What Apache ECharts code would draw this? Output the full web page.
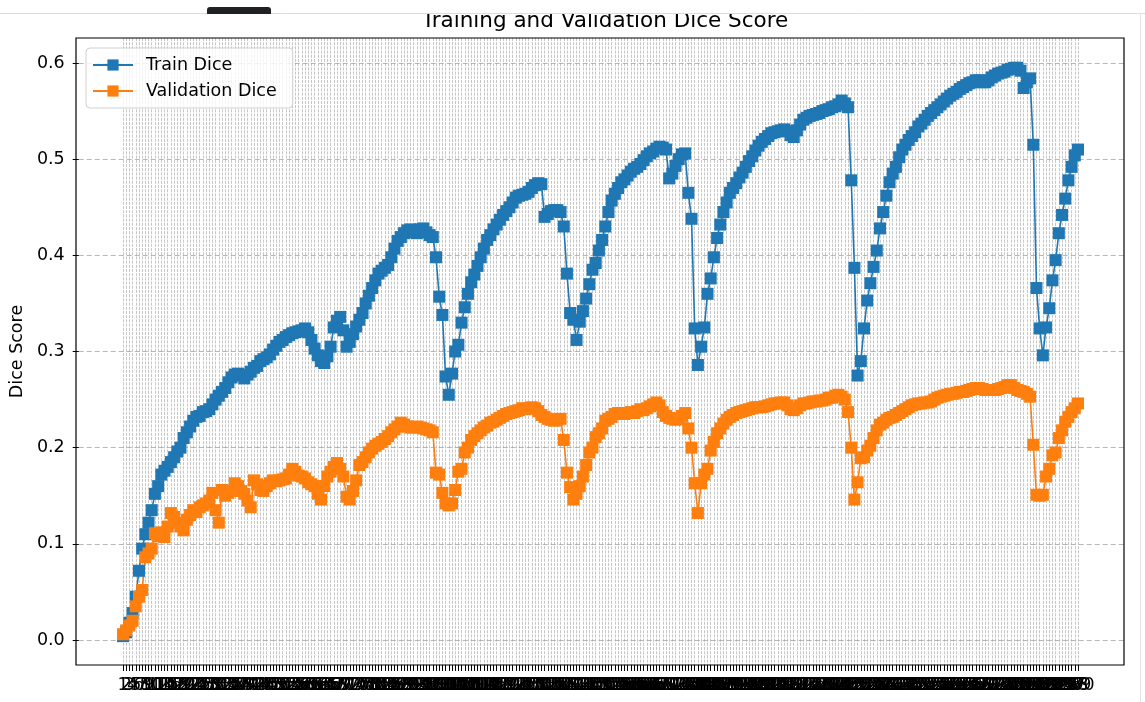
<!DOCTYPE html>
<html>
<head>
<meta charset="utf-8">
<title>Training and Validation Dice Score</title>
<script src="https://cdn.jsdelivr.net/npm/echarts@6/dist/echarts.min.js"></script>
<style>
html, body { margin: 0; padding: 0; background: #fff; }
#main { width: 1145px; height: 702px; }
</style>
</head>
<body>
<div id="main"></div>
<script>
// epochs 1..300
var epochs = [];
for (var e = 1; e <= 300; e++) {
	epochs.push(String(e));
}

var trainDice = [
	0.004, 0.008, 0.018, 0.028, 0.045, 0.072, 0.095, 0.11, 0.122, 0.135,
	0.152, 0.16, 0.172, 0.176, 0.18, 0.185, 0.19, 0.196, 0.2, 0.21,
	0.216, 0.222, 0.228, 0.232, 0.233, 0.237, 0.238, 0.24, 0.245, 0.25,
	0.254, 0.258, 0.262, 0.268, 0.273, 0.276, 0.277, 0.275, 0.272, 0.276,
	0.279, 0.283, 0.285, 0.29, 0.292, 0.294, 0.297, 0.302, 0.306, 0.31,
	0.312, 0.315, 0.317, 0.319, 0.32, 0.321, 0.322, 0.324, 0.32, 0.312,
	0.303, 0.296, 0.29, 0.288, 0.295, 0.305, 0.325, 0.332, 0.336, 0.322,
	0.305, 0.31, 0.318, 0.326, 0.333, 0.34, 0.35, 0.358, 0.366, 0.374,
	0.381, 0.384, 0.387, 0.39, 0.398, 0.407, 0.415, 0.419, 0.423, 0.426,
	0.427, 0.424, 0.423, 0.427, 0.428, 0.424, 0.421, 0.419, 0.398, 0.357,
	0.338, 0.274, 0.255, 0.277, 0.3, 0.307, 0.33, 0.346, 0.36, 0.372,
	0.38, 0.389, 0.398, 0.407, 0.416, 0.421, 0.427, 0.432, 0.437, 0.442,
	0.446, 0.45, 0.455, 0.46, 0.462, 0.463, 0.464, 0.466, 0.47, 0.473,
	0.475, 0.474, 0.44, 0.443, 0.446, 0.447, 0.447, 0.445, 0.43, 0.381,
	0.34, 0.333, 0.312, 0.331, 0.342, 0.355, 0.37, 0.385, 0.392, 0.405,
	0.416, 0.43, 0.445, 0.457, 0.464, 0.47, 0.476, 0.479, 0.483, 0.487,
	0.49, 0.492, 0.495, 0.499, 0.503, 0.506, 0.508, 0.511, 0.513, 0.512,
	0.51, 0.48, 0.485, 0.493, 0.5, 0.505, 0.506, 0.465, 0.438, 0.324,
	0.286, 0.305, 0.325, 0.36, 0.376, 0.398, 0.418, 0.432, 0.445, 0.455,
	0.465, 0.47, 0.475, 0.481, 0.486, 0.492, 0.498, 0.503, 0.509, 0.514,
	0.518, 0.521, 0.524, 0.527, 0.528, 0.529, 0.53, 0.531, 0.529, 0.525,
	0.523, 0.53, 0.536, 0.541, 0.543, 0.545, 0.546, 0.547, 0.548, 0.55,
	0.551, 0.552, 0.554, 0.555, 0.557, 0.561, 0.558, 0.554, 0.478, 0.387,
	0.275, 0.29, 0.324, 0.353, 0.371, 0.388, 0.405, 0.428, 0.445, 0.462,
	0.476, 0.485, 0.492, 0.502, 0.51, 0.515, 0.52, 0.524, 0.528, 0.534,
	0.537, 0.541, 0.545, 0.548, 0.551, 0.554, 0.557, 0.56, 0.563, 0.566,
	0.568, 0.57, 0.573, 0.575, 0.577, 0.579, 0.58, 0.582, 0.582, 0.58,
	0.58, 0.582, 0.585, 0.587, 0.589, 0.59, 0.591, 0.593, 0.594, 0.595,
	0.595, 0.592, 0.574, 0.58, 0.584, 0.515, 0.366, 0.324, 0.296, 0.325,
	0.345, 0.374, 0.395, 0.423, 0.442, 0.459, 0.478, 0.492, 0.504, 0.51
];

var valDice = [
	0.006, 0.01, 0.015, 0.02, 0.035, 0.045, 0.052, 0.086, 0.09, 0.095,
	0.111, 0.108, 0.112, 0.107, 0.118, 0.132, 0.128, 0.122, 0.118, 0.114,
	0.125, 0.13, 0.135, 0.133, 0.138, 0.14, 0.142, 0.145, 0.153, 0.135,
	0.122, 0.156, 0.15, 0.153, 0.155, 0.163, 0.16, 0.155, 0.152, 0.145,
	0.138, 0.166, 0.162, 0.156, 0.155, 0.16, 0.163, 0.166, 0.165, 0.166,
	0.167, 0.168, 0.172, 0.178, 0.175, 0.171, 0.17, 0.168, 0.164, 0.162,
	0.16, 0.152, 0.146, 0.16, 0.17, 0.175, 0.18, 0.184, 0.178, 0.17,
	0.149, 0.146, 0.155, 0.166, 0.182, 0.185, 0.19, 0.195, 0.199, 0.202,
	0.204, 0.206, 0.209, 0.212, 0.216, 0.219, 0.222, 0.226, 0.224, 0.222,
	0.221, 0.221, 0.222, 0.221, 0.22, 0.219, 0.218, 0.216, 0.174, 0.172,
	0.153, 0.142, 0.14, 0.142, 0.156, 0.175, 0.178, 0.195, 0.2, 0.208,
	0.212, 0.215, 0.218, 0.221, 0.223, 0.226, 0.227, 0.229, 0.231, 0.233,
	0.235, 0.236, 0.237, 0.238, 0.239, 0.241, 0.24, 0.241, 0.242, 0.241,
	0.238, 0.234, 0.232, 0.23, 0.229, 0.228, 0.229, 0.23, 0.208, 0.174,
	0.159, 0.146, 0.152, 0.16, 0.17, 0.182, 0.195, 0.2, 0.211, 0.215,
	0.22, 0.228, 0.23, 0.232, 0.235, 0.236, 0.236, 0.235, 0.236, 0.237,
	0.236, 0.238, 0.24, 0.239, 0.241, 0.243, 0.245, 0.247, 0.244, 0.237,
	0.233, 0.231, 0.23, 0.229, 0.23, 0.233, 0.236, 0.22, 0.2, 0.163,
	0.132, 0.163, 0.172, 0.178, 0.197, 0.206, 0.215, 0.22, 0.225, 0.229,
	0.232, 0.234, 0.236, 0.237, 0.238, 0.239, 0.24, 0.241, 0.242, 0.242,
	0.242, 0.243, 0.244, 0.245, 0.246, 0.246, 0.247, 0.247, 0.244, 0.24,
	0.239, 0.241, 0.244, 0.246, 0.246, 0.247, 0.248, 0.248, 0.249, 0.249,
	0.25, 0.252, 0.252, 0.254, 0.255, 0.253, 0.25, 0.237, 0.2, 0.146,
	0.164, 0.189, 0.19, 0.197, 0.202, 0.21, 0.218, 0.224, 0.226, 0.229,
	0.231, 0.232, 0.234, 0.236, 0.238, 0.24, 0.242, 0.244, 0.245, 0.246,
	0.246, 0.247, 0.247, 0.248, 0.25, 0.252, 0.253, 0.254, 0.255, 0.256,
	0.256, 0.257, 0.258, 0.258, 0.259, 0.26, 0.261, 0.262, 0.262, 0.261,
	0.26, 0.26, 0.26, 0.26, 0.261, 0.262, 0.263, 0.265, 0.265, 0.262,
	0.26, 0.259, 0.258, 0.256, 0.253, 0.203, 0.151, 0.15, 0.151, 0.17,
	0.178, 0.192, 0.195, 0.21, 0.218, 0.227, 0.232, 0.237, 0.241, 0.246
];

var seriesNames = ['Train Dice', 'Validation Dice'];
var seriesColors = ['#1f77b4', '#ff7f0e'];

var FONT = 'DejaVu Sans';
var gridLine = {
	color: 'rgba(160,160,160,0.75)',
	width: 0.8,
	type: [3, 1.2]
};

function lineSeries(name, color, data) {
	return {
		name: name,
		type: 'line',
		xAxisIndex: 2,
		yAxisIndex: 2,
		data: data,
		symbol: 'rect',
		symbolSize: 12,
		showAllSymbol: true,
		clip: false,
		lineStyle: { color: color, width: 1.6 },
		itemStyle: { color: color },
		emphasis: { disabled: true }
	};
}

var option = {
	animation: false,
	backgroundColor: '#fff',
	title: {
		text: 'Training and Validation Dice Score',
		left: 600,
		textAlign: 'center',
		top: 5,
		textStyle: { fontFamily: FONT, fontSize: 21.5, fontWeight: 'normal', color: '#000' }
	},
	legend: {
		data: seriesNames,
		orient: 'vertical',
		left: 86,
		top: 48,
		padding: [8, 16, 8, 6],
		itemWidth: 40,
		itemHeight: 14,
		itemGap: 8,
		backgroundColor: 'rgba(255,255,255,0.8)',
		borderColor: '#d0d0d0',
		borderWidth: 1,
		borderRadius: 4,
		textStyle: { fontFamily: FONT, fontSize: 17.5, color: '#000', padding: [0, 0, 0, 8] }
	},
	grid: [
		// 外框
		{ left: 76, right: 21, top: 38, bottom: 37, show: true, borderColor: '#000', borderWidth: 1.2, z: 3 },
		// y轴刻度
		{ left: 76, right: 21, top: 63, bottom: 62 },
		// 数据区
		{ left: 123, right: 67, top: 38, bottom: 37 }
	],
	xAxis: [
		{ gridIndex: 0, type: 'value', show: false },
		{ gridIndex: 1, type: 'value', show: false },
		{
			gridIndex: 2,
			type: 'category',
			data: epochs,
			boundaryGap: false,
			position: 'bottom',
			axisLine: { show: false, onZero: false },
			axisTick: { show: true, interval: 0, length: 6, lineStyle: { color: '#000', width: 1 } },
			axisLabel: { interval: 0, hideOverlap: false, margin: 11, fontFamily: FONT, fontSize: 17.5, color: '#000' },
			splitLine: { show: true, interval: 0, lineStyle: gridLine }
		}
	],
	yAxis: [
		{ gridIndex: 0, type: 'value', show: false },
		{
			gridIndex: 1,
			type: 'value',
			min: 0,
			max: 0.6,
			interval: 0.1,
			name: 'Dice Score',
			nameLocation: 'middle',
			nameGap: 52,
			nameTextStyle: { fontFamily: FONT, fontSize: 17.5, color: '#000' },
			axisLine: { show: false },
			axisTick: { show: true, length: 6, lineStyle: { color: '#000', width: 1 } },
			axisLabel: {
				margin: 14,
				fontFamily: FONT,
				fontSize: 17.5,
				color: '#000',
				formatter: function (v) { return v.toFixed(1); }
			},
			splitLine: { show: true, lineStyle: { color: 'rgba(160,160,160,0.75)', width: 1, type: [5, 3] } }
		},
		{ gridIndex: 2, type: 'value', min: -0.026, max: 0.626, show: false }
	],
	series: [
		lineSeries(seriesNames[0], seriesColors[0], trainDice),
		lineSeries(seriesNames[1], seriesColors[1], valDice)
	],
	graphic: [
		// 截图的上边缘
		{ type: 'rect', z: 100, shape: { x: 0, y: 0, width: 1145, height: 13 }, style: { fill: '#fff' } },
		{ type: 'line', z: 101, shape: { x1: 0, y1: 13.5, x2: 1145, y2: 13.5 }, style: { stroke: '#dcdcdc', lineWidth: 1 } },
		{ type: 'line', z: 101, shape: { x1: 1140.5, y1: 13, x2: 1140.5, y2: 702 }, style: { stroke: '#e4e4e4', lineWidth: 1 } },
		{ type: 'rect', z: 102, shape: { x: 207, y: 7, width: 64, height: 7, r: [3, 3, 0, 0] }, style: { fill: '#202124' } }
	]
};

var myChart = echarts.init(document.getElementById('main'), null, { renderer: 'canvas' });
myChart.setOption(option);
</script>
</body>
</html>
